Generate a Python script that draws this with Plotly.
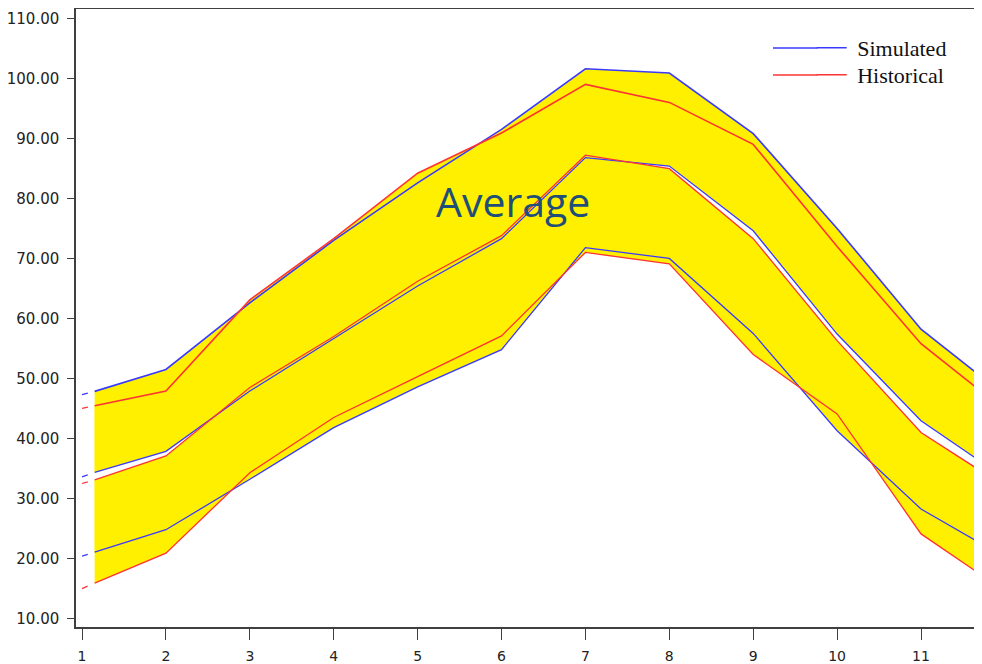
import plotly.graph_objects as go

# ---- data ----
months = [1.15, 2, 3, 4, 5, 6, 7, 8, 9, 10, 11, 12]
sim_upper = [47.85, 51.5, 62.6, 73.0, 82.6, 91.5, 101.6, 100.9, 90.8, 75.0, 58.2, 47.2]
hist_upper = [45.45, 47.9, 63.1, 73.3, 84.2, 90.9, 99.0, 96.0, 89.0, 72.0, 55.8, 44.7]
sim_mid = [34.35, 37.85, 47.9, 56.6, 65.4, 73.3, 86.8, 85.4, 74.6, 57.4, 42.95, 33.4]
hist_mid = [33.1, 37.1, 48.5, 57.0, 66.2, 73.8, 87.2, 84.95, 73.3, 56.3, 41.0, 32.0]
sim_lower = [21.05, 24.8, 33.2, 41.8, 48.6, 54.8, 71.8, 70.0, 57.5, 41.3, 28.25, 20.2]
hist_lower = [15.9, 20.9, 34.3, 43.5, 50.3, 57.1, 71.0, 69.1, 54.0, 44.1, 24.1, 14.6]

stub_x = [1.0, 1.15]
stub_sim = [47.3, 33.6, 20.4]      # upper, mid, lower at x=1
stub_hist = [45.0, 32.5, 15.0]

x_ticks = list(range(1, 12))
y_ticks = list(range(10, 120, 10))

BLUE = "#3a3aff"
RED = "#ff3333"
YELLOW = "#fff000"

fig = go.Figure()

# yellow bands: upper band down to simulated mid, lower band up to historical mid
def band(top, bottom):
    fig.add_trace(go.Scatter(
        x=months + months[::-1], y=top + bottom[::-1],
        fill="toself", fillcolor=YELLOW, mode="lines",
        line=dict(width=0, color=YELLOW), hoverinfo="skip", showlegend=False))

band(sim_upper, sim_mid)
band(hist_upper, sim_mid)
band(hist_mid, sim_lower)
band(hist_mid, hist_lower)

def series(ys, stubs, color, name, legend):
    for i, (y, s) in enumerate(zip(ys, stubs)):
        fig.add_trace(go.Scatter(
            x=stub_x, y=[s, y[0]], mode="lines",
            line=dict(color=color, width=1.3, dash="6px,40px"),
            hoverinfo="skip", showlegend=False))
        fig.add_trace(go.Scatter(
            x=months, y=y, mode="lines", name=" " + name, legend=legend,
            line=dict(color=color, width=1.6 if i == 0 else 1.3),
            showlegend=(i == 0)))

series([sim_upper, sim_mid, sim_lower], stub_sim, BLUE, "Simulated", "legend")
series([hist_upper, hist_mid, hist_lower], stub_hist, RED, "Historical", "legend2")

# lengthen the legend key lines (the reference keys are ~72px long)
for col, yp in ((BLUE, 0.9369), (RED, 0.8932)):
    fig.add_shape(type="line", xref="paper", yref="paper",
                  x0=0.7693, x1=0.8185, y0=yp, y1=yp,
                  line=dict(color=col, width=1.6))

fig.add_annotation(text="Average", xref="paper", yref="paper",
                   x=0.482, y=0.69, xanchor="center", yanchor="middle",
                   showarrow=False,
                   font=dict(family="Open Sans", size=41, color="#1f4e79"))

y_font = dict(family="DejaVu Sans", size=15, color="#222222")
x_font = dict(family="DejaVu Sans", size=14, color="#222222")
leg_font = dict(family="Liberation Serif", size=22, color="#111111")
fig.update_layout(
    width=982, height=664,
    margin=dict(l=68, r=8, t=1, b=45, autoexpand=False),
    paper_bgcolor="white", plot_bgcolor="white",
    showlegend=True,
    legend=dict(x=0.812, y=0.9369, xanchor="left", yanchor="middle",
                bgcolor="rgba(0,0,0,0)", font=leg_font),
    legend2=dict(x=0.812, y=0.8932, xanchor="left", yanchor="middle",
                 bgcolor="rgba(0,0,0,0)", font=leg_font),
    xaxis=dict(range=[0.928, 11.727], tickvals=x_ticks,
               showline=True, linecolor="#404040", linewidth=1.5, mirror=True,
               ticks="outside", ticklen=11, tickcolor="#404040", tickwidth=1.2,
               ticklabelstandoff=4,
               showgrid=False, zeroline=False, tickfont=x_font),
    yaxis=dict(range=[8.59, 111.56], tickvals=y_ticks, tickformat=".2f",
               showline=True, linecolor="#404040", linewidth=1.5,
               ticks="outside", ticklen=7, tickcolor="#404040", tickwidth=1.2,
               ticklabelstandoff=5,
               showgrid=False, zeroline=False, tickfont=y_font),
)

fig.write_html("out.html")
